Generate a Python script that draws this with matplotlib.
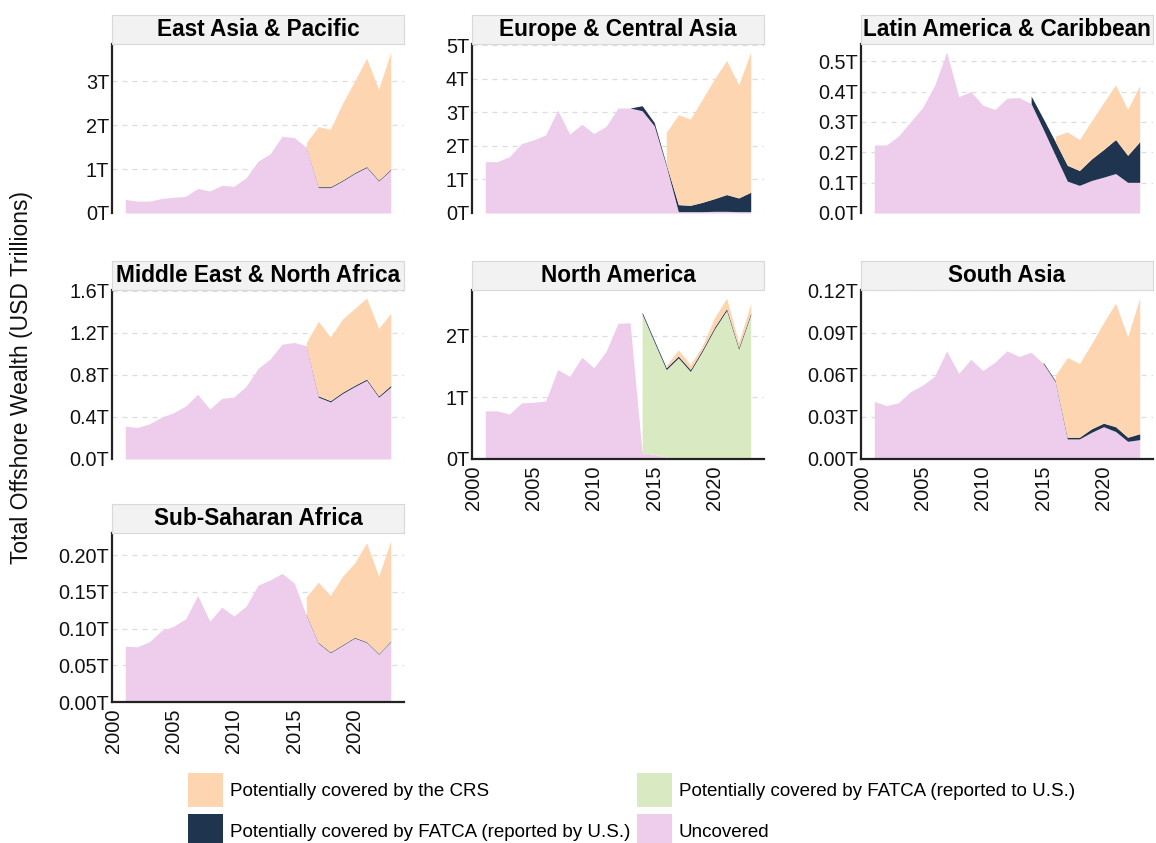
import numpy as np
import matplotlib
matplotlib.use("Agg")
import matplotlib.pyplot as plt
from matplotlib.patches import Patch
from matplotlib.ticker import MultipleLocator, StrMethodFormatter

plt.rcParams["font.family"] = ["Liberation Sans", "DejaVu Sans"]

years = np.arange(2001, 2024)

# values in USD trillions, None = layer not present that year
eap_uncovered = [0.31, 0.27, 0.27, 0.33, 0.36, 0.38, 0.56, 0.50, 0.63, 0.61, 0.80, 1.18,
                 1.35, 1.75, 1.72, 1.50, 0.58, 0.58, 0.73, 0.90, 1.04, 0.73, 0.98]
eap_fatca_by = [None] * 15 + [0.01, 0.02, 0.02, 0.02, 0.02, 0.02, 0.02, 0.02]
eap_crs = [None] * 15 + [0.09, 1.37, 1.31, 1.75, 2.08, 2.47, 2.07, 2.67]

eca_uncovered = [1.53, 1.53, 1.68, 2.07, 2.18, 2.33, 3.07, 2.35, 2.65, 2.37, 2.58, 3.13,
                 3.13, 3.05, 2.60, 1.40, 0.04, 0.04, 0.04, 0.05, 0.05, 0.04, 0.04]
eca_fatca_by = [None] * 12 + [0.0, 0.15, 0.10, 0.05, 0.21, 0.19, 0.28, 0.38, 0.50, 0.41, 0.58]
eca_crs = [None] * 15 + [0.95, 2.68, 2.57, 3.08, 3.57, 4.00, 3.37, 4.18]

lac_uncovered = [0.224, 0.224, 0.253, 0.300, 0.347, 0.420, 0.530, 0.383, 0.400, 0.355, 0.341, 0.378,
                 0.380, 0.360, 0.276, 0.190, 0.105, 0.091, 0.107, 0.118, 0.130, 0.101, 0.101]
lac_fatca_by = [None] * 13 + [0.025, 0.035, 0.045, 0.052, 0.049, 0.071, 0.091, 0.112, 0.089, 0.134]
lac_crs = [None] * 15 + [0.018, 0.110, 0.102, 0.125, 0.154, 0.180, 0.151, 0.185]

mena_uncovered = [0.312, 0.300, 0.334, 0.398, 0.440, 0.503, 0.615, 0.475, 0.576, 0.589, 0.690, 0.860,
                  0.950, 1.092, 1.108, 1.076, 0.588, 0.543, 0.623, 0.688, 0.748, 0.588, 0.685]
mena_fatca_by = [None] * 15 + [0.005, 0.012, 0.012, 0.012, 0.012, 0.012, 0.012, 0.015]
mena_crs = [None] * 15 + [0.025, 0.710, 0.605, 0.695, 0.730, 0.770, 0.640, 0.685]

na_uncovered = [0.78, 0.78, 0.73, 0.91, 0.92, 0.94, 1.45, 1.34, 1.65, 1.48, 1.74, 2.20,
                2.21, 0.10, 0.077, 0.03, 0.005, 0, 0, 0, 0, 0, 0]
na_fatca_to = [None] * 13 + [2.25, 1.82, 1.42, 1.635, 1.42, 1.75, 2.11, 2.41, 1.78, 2.34]
na_fatca_by = [None] * 13 + [0.03] * 10
na_crs = [None] * 15 + [0.04, 0.10, 0.08, 0.06, 0.15, 0.17, 0.08, 0.15]

sa_uncovered = [0.041, 0.038, 0.040, 0.048, 0.0525, 0.059, 0.077, 0.061, 0.071, 0.063, 0.069, 0.077,
                0.073, 0.076, 0.068, 0.055, 0.0143, 0.0143, 0.019, 0.023, 0.0196, 0.0126, 0.0138]
sa_fatca_by = [None] * 14 + [0.0008, 0.0008, 0.0012, 0.0012, 0.0025, 0.0025, 0.0034, 0.0029, 0.0042]
sa_crs = [None] * 15 + [0.0037, 0.0568, 0.0525, 0.0605, 0.0715, 0.088, 0.0715, 0.0966]

ssa_uncovered = [0.0757, 0.0752, 0.082, 0.097, 0.103, 0.113, 0.145, 0.110, 0.129, 0.117, 0.130, 0.159,
                 0.166, 0.175, 0.162, 0.118, 0.080, 0.067, 0.077, 0.087, 0.081, 0.065, 0.082]
ssa_fatca_by = [None] * 15 + [0.001] * 8
ssa_crs = [None] * 15 + [0.024, 0.082, 0.077, 0.093, 0.101, 0.1345, 0.105, 0.136]

no_layer = [None] * 23

colors = {
    "uncovered": "#EDCDEB",
    "fatca_to": "#D9EAC3",
    "fatca_by": "#1F344F",
    "crs": "#FDD5B0",
}
labels = {
    "crs": "Potentially covered by the CRS",
    "fatca_by": "Potentially covered by FATCA (reported by U.S.)",
    "fatca_to": "Potentially covered by FATCA (reported to U.S.)",
    "uncovered": "Uncovered",
}

# title, layers, y tick step, label format, (col, row), draws x axis
panels = [
    ("East Asia & Pacific", (eap_uncovered, no_layer, eap_fatca_by, eap_crs), 1, "{x:.0f}T", (0, 0), False),
    ("Europe & Central Asia", (eca_uncovered, no_layer, eca_fatca_by, eca_crs), 1, "{x:.0f}T", (1, 0), False),
    ("Latin America & Caribbean", (lac_uncovered, no_layer, lac_fatca_by, lac_crs), 0.1, "{x:.1f}T", (2, 0), False),
    ("Middle East & North Africa", (mena_uncovered, no_layer, mena_fatca_by, mena_crs), 0.4, "{x:.1f}T", (0, 1), False),
    ("North America", (na_uncovered, na_fatca_to, na_fatca_by, na_crs), 1, "{x:.0f}T", (1, 1), True),
    ("South Asia", (sa_uncovered, no_layer, sa_fatca_by, sa_crs), 0.03, "{x:.2f}T", (2, 1), True),
    ("Sub-Saharan Africa", (ssa_uncovered, no_layer, ssa_fatca_by, ssa_crs), 0.05, "{x:.2f}T", (0, 2), True),
]
layer_keys = ["uncovered", "fatca_to", "fatca_by", "crs"]

W, H = 1156, 843
fig = plt.figure(figsize=(W / 100, H / 100), dpi=100)

col_left = [112, 472, 861]
row_top = [44, 290, 533]
panel_w, panel_h, strip_h = 292, 169, 29


def frac_box(left, top, w, h):
    return [left / W, 1 - (top + h) / H, w / W, h / H]


for title, layers, step, fmt, (c, r), has_x in panels:
    ax = fig.add_axes(frac_box(col_left[c], row_top[r], panel_w, panel_h))
    base = np.zeros(len(years))
    for key, vals in zip(layer_keys, layers):
        v = np.array([np.nan if x is None else x for x in vals], dtype=float)
        if np.all(np.isnan(v)):
            continue
        top = base + v
        ax.fill_between(years, base, top, color=colors[key], linewidth=0)
        base = base + np.nan_to_num(v)

    ax.set_xlim(2001 - 1.1, 2023 + 1.1)
    ax.set_ylim(0, base.max() * 1.05)
    ax.yaxis.set_major_locator(MultipleLocator(step))
    ax.yaxis.set_major_formatter(StrMethodFormatter(fmt))
    ax.grid(axis="y", color="#DDDDDD", linestyle=(0, (4, 4)), linewidth=0.9)
    ax.set_axisbelow(True)
    for s in ["top", "right"]:
        ax.spines[s].set_visible(False)
    ax.spines["left"].set_color("#222222")
    ax.spines["left"].set_linewidth(1.6)
    ax.tick_params(axis="y", length=0, labelsize=14.3, pad=2, labelcolor="#111111")
    ax.set_xticks(range(2000, 2021, 5))
    if has_x:
        ax.spines["bottom"].set_color("#222222")
        ax.spines["bottom"].set_linewidth(1.6)
        ax.tick_params(axis="x", length=0, labelsize=14.5, pad=5, labelrotation=90, labelcolor="#111111")
    else:
        ax.spines["bottom"].set_visible(False)
        ax.tick_params(axis="x", length=0, labelbottom=False)

    strip = fig.add_axes(frac_box(col_left[c], row_top[r] - strip_h, panel_w, strip_h))
    strip.set_facecolor("#F2F2F2")
    strip.set_xticks([])
    strip.set_yticks([])
    for s in strip.spines.values():
        s.set_color("#D9D9D9")
        s.set_linewidth(0.8)
    strip.text(0.5, 0.5, title, ha="center", va="center", fontsize=16.3,
               fontweight="bold", transform=strip.transAxes)

fig.text(22 / W, 1 - 378 / H, "Total Offshore Wealth (USD Trillions)", rotation=90,
         ha="center", va="center", fontsize=16.5, color="#111111")

order = ["crs", "fatca_by", "fatca_to", "uncovered"]
handles = [Patch(facecolor=colors[k], edgecolor="none") for k in order]
fig.legend(handles, [labels[k] for k in order], ncol=2, loc="upper left",
           bbox_to_anchor=(188 / W, 1 - 773 / H), frameon=False, fontsize=13.5,
           handlelength=1.87, handleheight=2.41, borderpad=0, borderaxespad=0,
           labelspacing=0.37, columnspacing=0.35, handletextpad=0.37)

fig.savefig("out.png", dpi=100)
